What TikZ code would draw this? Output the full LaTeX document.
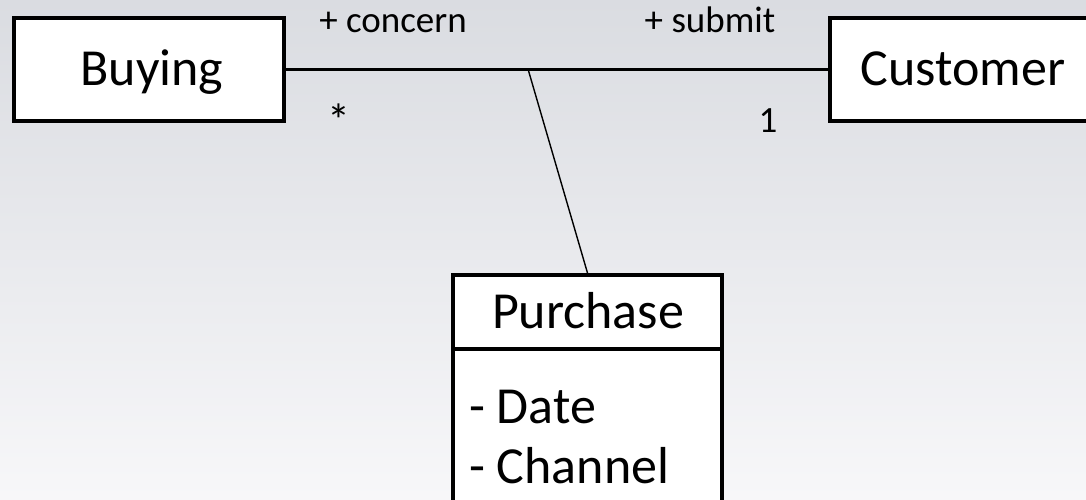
\documentclass[tikz,border=0pt]{standalone}
\usepackage{fontspec}
\setmainfont{Carlito}
\definecolor{bgtop}{RGB}{218,220,225}
\definecolor{bgbot}{RGB}{247,247,249}
\begin{document}
\begin{tikzpicture}[x=1pt,y=-1pt,
  cls/.style={draw=black,line width=4pt,fill=white,inner sep=0pt},
  big/.style={font=\fontsize{52}{62}\selectfont,inner sep=0pt},
  small/.style={font=\fontsize{37}{44}\selectfont,inner sep=0pt},
  assoc/.style={line width=3pt},
  link/.style={line width=1.4pt}]
\useasboundingbox (0,0) rectangle (1086,499);
\begin{scope}[y=1pt]
  \shade[top color=bgtop,bottom color=bgbot] (0,-499) rectangle (1086,0);
\end{scope}
% class boxes
\node[cls,minimum width=270pt,minimum height=103pt] (buyingbox) at (149,69.5) {};
\node[cls,minimum width=264pt,minimum height=103pt] (customerbox) at (962,69.5) {};
\node[cls,minimum width=269pt,minimum height=74pt] (purchasehead) at (587.5,312) {};
\node[cls,minimum width=269pt,minimum height=156pt] (purchasebody) at (587.5,427) {};
% connectors
\draw[assoc] (buyingbox.east) -- (customerbox.west);
\coordinate (assocpt) at (528,69);
\draw[link] (assocpt) -- (purchasehead.north);
% texts
\node[big,anchor=base] (buying) at (152,85) {Buying};
\node[big,anchor=base] (customer) at (963,85) {Customer};
\node[big,anchor=base] (purchase) at (588,328) {Purchase};
\node[big,anchor=base west] (date) at (469,423) {- Date};
\node[big,anchor=base west] (channel) at (469,483) {- Channel};
\node[small,anchor=base] (concern) at (393,32) {+ concern};
\node[small,anchor=base] (submit) at (710,32) {+ submit};
\node[inner sep=0pt,font=\fontsize{46}{50}\selectfont,anchor=base] (many) at (339,136) {*};
\node[small,anchor=base] (one) at (768,132) {1};
\end{tikzpicture}
\end{document}
